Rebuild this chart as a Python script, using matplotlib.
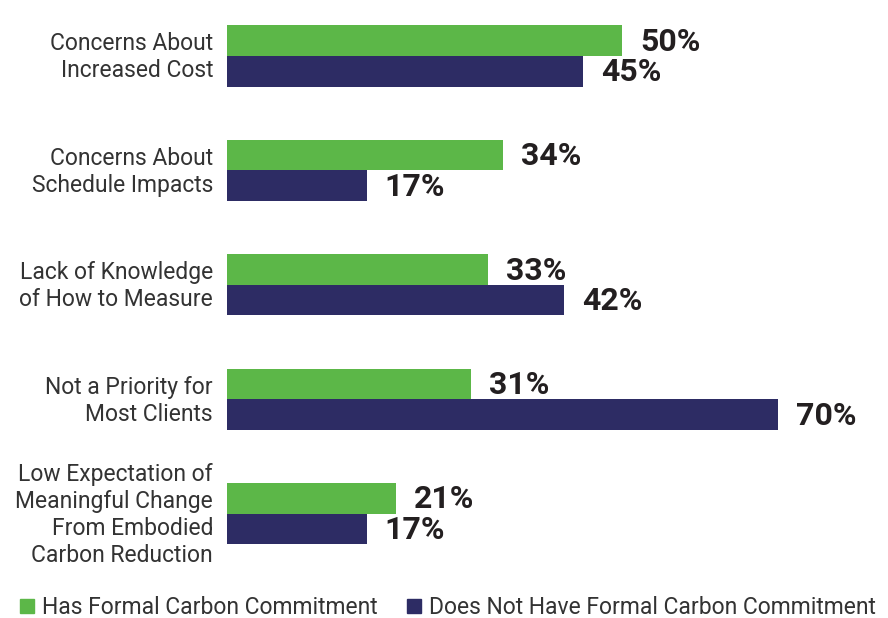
import matplotlib
matplotlib.use("Agg")
import matplotlib.pyplot as plt
import matplotlib.transforms as mtransforms
from matplotlib.lines import Line2D
import numpy as np

categories = ["Concerns About\nIncreased Cost",
              "Concerns About\nSchedule Impacts",
              "Lack of Knowledge\nof How to Measure",
              "Not a Priority for\nMost Clients",
              "Low Expectation of\nMeaningful Change\nFrom Embodied\nCarbon Reduction"]
has_commitment = [50.0, 34.9, 33.1, 30.9, 21.4]
no_commitment = [45.1, 17.7, 42.7, 69.8, 17.7]
has_labels = ["50%", "34%", "33%", "31%", "21%"]
no_labels = ["45%", "17%", "42%", "70%", "17%"]
series_names = ["Has Formal Carbon Commitment", "Does Not Have Formal Carbon Commitment"]

GREEN = "#5cb748"
NAVY = "#2d2c64"
TXT = "#333333"
VAL = "#231f20"

plt.rcParams['font.family'] = ['Roboto', 'DejaVu Sans']

W, H = 888, 618
fig = plt.figure(figsize=(W/100, H/100), dpi=100)
ax_left, ax_right = 227, 877
ax_top, ax_bot = 0, 570
ax = fig.add_axes([ax_left/W, 1-ax_bot/H, (ax_right-ax_left)/W, (ax_bot-ax_top)/H])

px_per_unit = 7.9
ax.set_xlim(0, (ax_right-ax_left)/px_per_unit)
spacing = 114.4
c0 = 56.0
ax.set_ylim((ax_bot - c0)/spacing, (ax_top - c0)/spacing)

y = np.arange(len(categories))
h = 0.267
ax.barh(y - h/2, has_commitment, height=h, color=GREEN)
ax.barh(y + h/2, no_commitment, height=h, color=NAVY)

off = 18/px_per_unit
for i in range(len(categories)):
    ax.text(has_commitment[i] + off, i - h/2 + 0.01, has_labels[i], va="center", ha="left",
            fontsize=23, fontweight="bold", color=VAL)
    ax.text(no_commitment[i] + off, i + h/2 + 0.01, no_labels[i], va="center", ha="left",
            fontsize=23, fontweight="bold", color=VAL)

ax.set_yticks(y)
ax.set_yticklabels(categories, fontsize=16.5, color=TXT, linespacing=1.22)
ax.tick_params(axis="y", length=0, pad=10)
shift = mtransforms.ScaledTranslation(0, 3/100, fig.dpi_scale_trans)
for lbl in ax.get_yticklabels():
    lbl.set_transform(lbl.get_transform() + shift)
ax.set_xticks([])
for s in ax.spines.values():
    s.set_visible(False)

handles = [Line2D([0], [0], marker="s", linestyle="none", markersize=10, color=GREEN),
           Line2D([0], [0], marker="s", linestyle="none", markersize=10, color=NAVY)]
fig.legend(handles, series_names, loc="center", bbox_to_anchor=(447/W, 1-608/H),
           ncol=2, frameon=False, fontsize=16.5, handletextpad=0.25, columnspacing=1.2,
           labelcolor=TXT, handlelength=0.8, borderaxespad=0, borderpad=0)

fig.savefig("out.png", dpi=100)
